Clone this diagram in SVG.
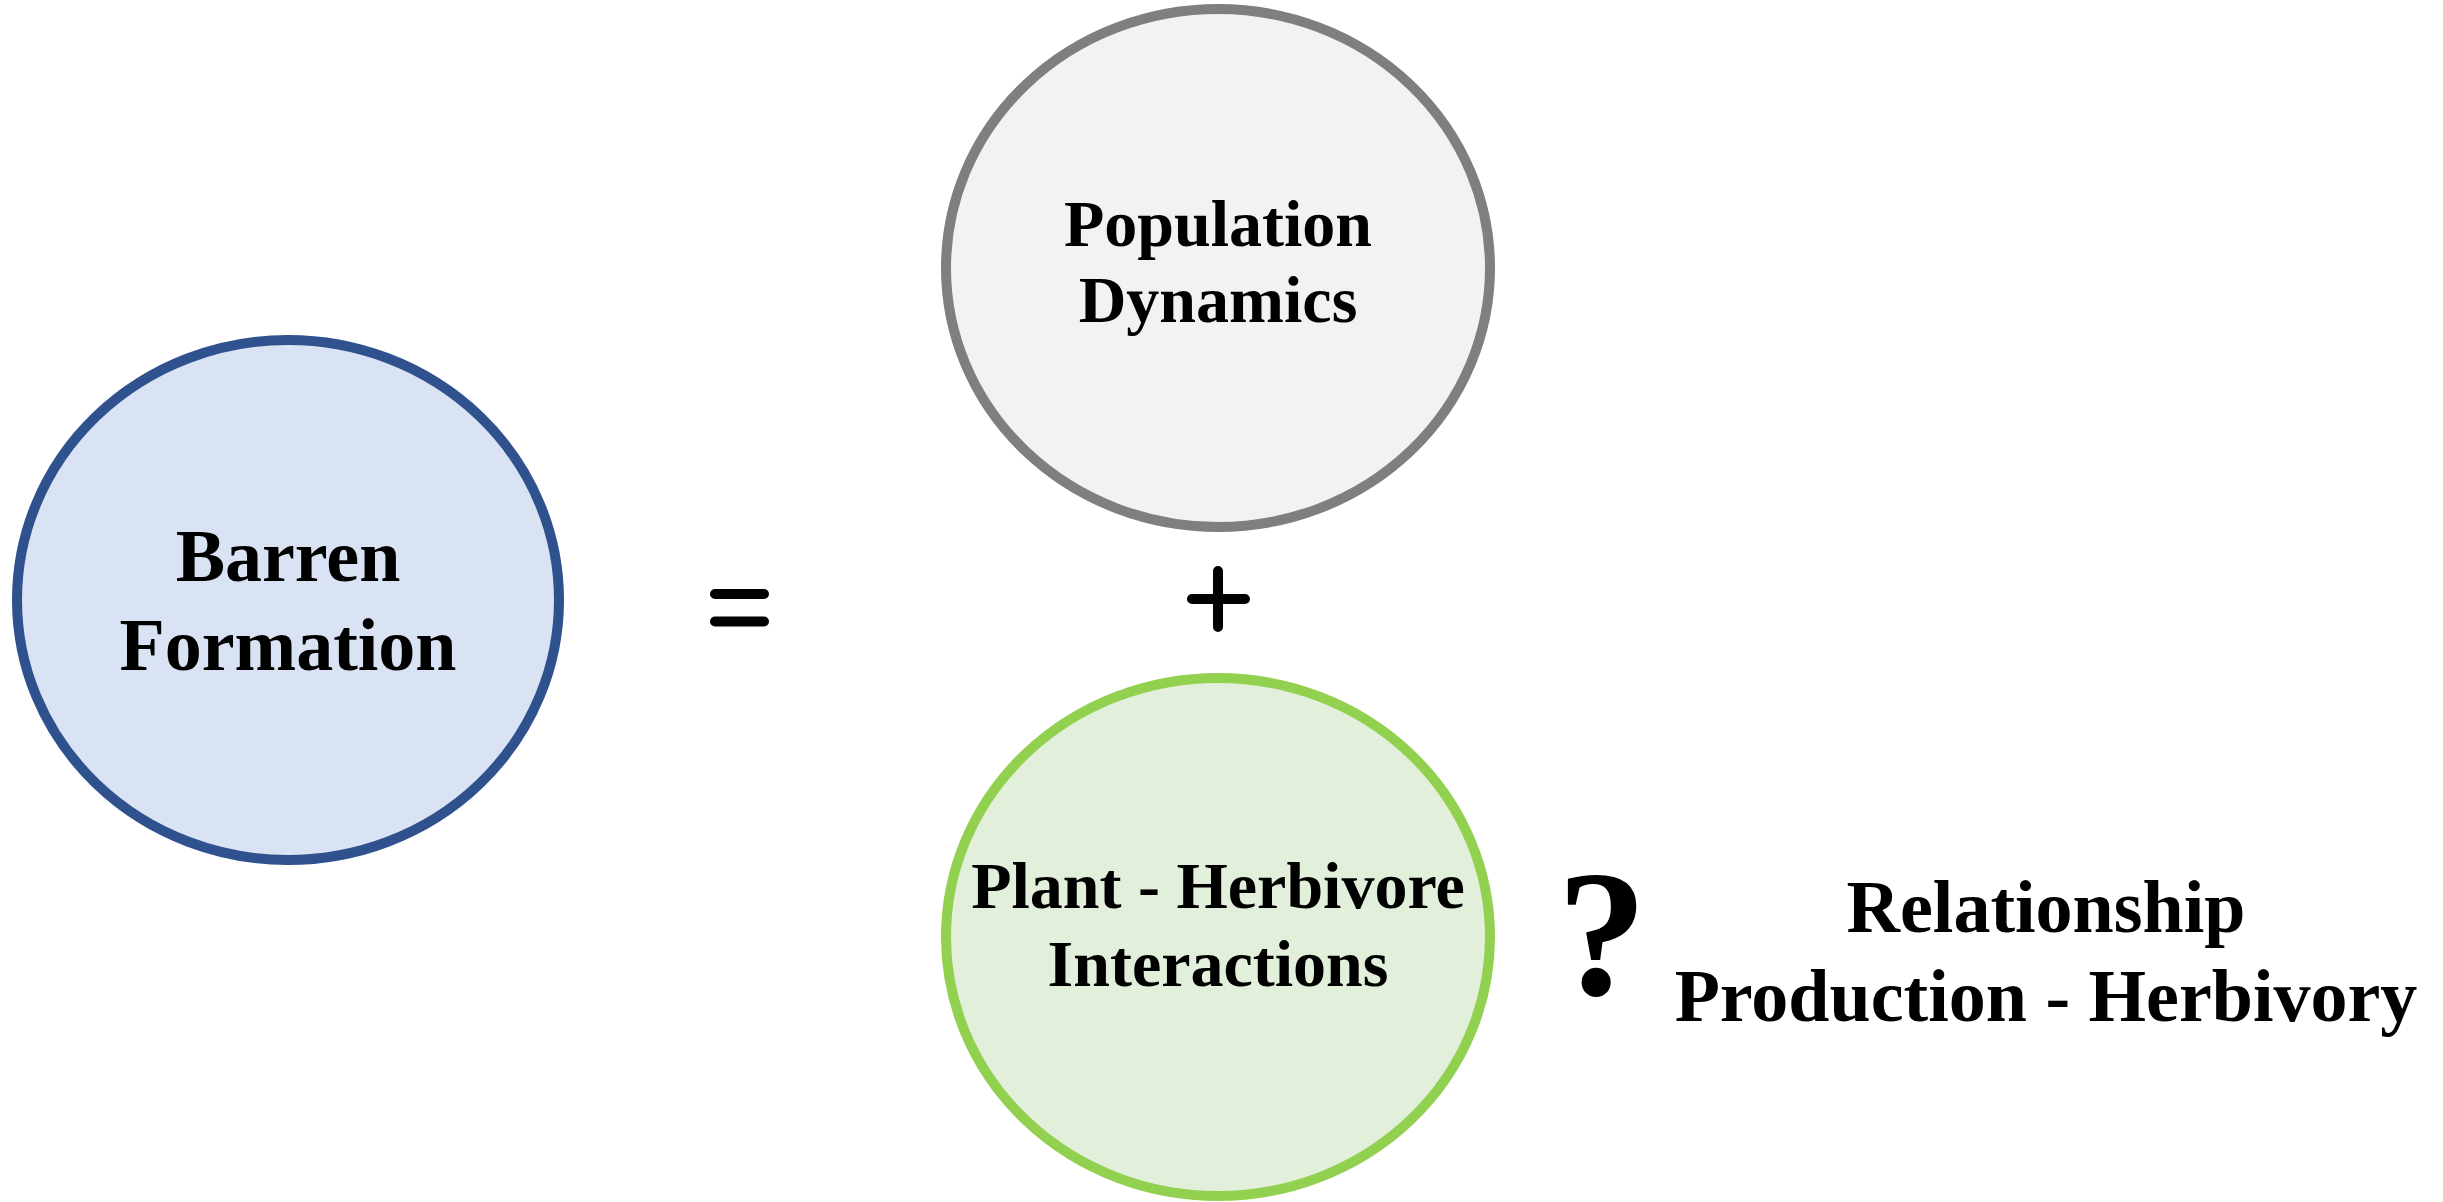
<svg xmlns="http://www.w3.org/2000/svg" width="2443" height="1202" viewBox="0 0 2443 1202">
<style>
.lbl{font-family:"Liberation Serif","Times New Roman",serif;font-weight:bold;fill:#000;text-anchor:middle}
.op{stroke:#000;stroke-width:10;stroke-linecap:round;fill:none}
</style>
<rect width="2443" height="1202" fill="#fff"/>
<g id="barren">
<ellipse cx="288" cy="600" rx="271" ry="260" fill="#DAE3F3" stroke="#2F528F" stroke-width="10"/>
<text class="lbl" x="288" y="581" font-size="74">Barren</text>
<text class="lbl" x="288" y="670" font-size="74">Formation</text>
</g>
<g id="population">
<ellipse cx="1218" cy="268" rx="272" ry="259" fill="#F2F2F2" stroke="#7F7F7F" stroke-width="10"/>
<text class="lbl" x="1218" y="246" font-size="66">Population</text>
<text class="lbl" x="1218" y="322" font-size="66">Dynamics</text>
</g>
<g id="plant">
<ellipse cx="1218" cy="937" rx="272" ry="259" fill="#E2EFDA" stroke="#92D050" stroke-width="10"/>
<text class="lbl" x="1218" y="908" font-size="66">Plant - Herbivore</text>
<text class="lbl" x="1218" y="986" font-size="66">Interactions</text>
</g>
<g id="connectors">
<path class="op" d="M715 594H764M715 621.5H764"/>
<path class="op" d="M1218 571V627M1192 599H1245"/>
</g>
<g id="relationship">
<text class="lbl" x="1602" y="994" font-size="180">?</text>
<text class="lbl" x="2046" y="932" font-size="74">Relationship</text>
<text class="lbl" x="2046" y="1021" font-size="74">Production - Herbivory</text>
</g>
</svg>
